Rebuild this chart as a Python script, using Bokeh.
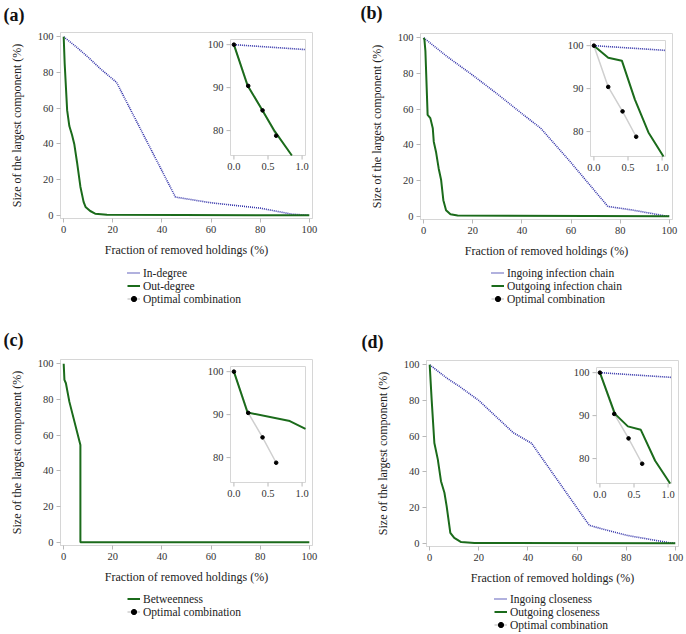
from bokeh.plotting import figure
from bokeh.models import Range1d, FixedTicker, Legend, LegendItem
from bokeh.layouts import column, row
from bokeh.embed import file_html
from bokeh.resources import INLINE
from bokeh.core.properties import value

# ---------------- data ----------------
main_ticks = [0, 20, 40, 60, 80, 100]
inset_x_ticks = [0.0, 0.5, 1.0]
inset_x_labels = ["0.0", "0.5", "1.0"]
inset_y_ticks = [80, 90, 100]
inset_y_labels = ["80", "90", "100"]

opt_x = [0.0, 0.21, 0.42, 0.62]
opt_y = [100.0, 90.4, 84.7, 78.8]

# (a)
a_in_x = [0, 5, 10, 15, 21.5, 45.5, 60, 80, 93, 100]
a_in_y = [100, 94.5, 88.5, 82, 74.5, 10.2, 7, 4, 0.6, 0]
a_out_x = [0, 0.4, 1.4, 2.3, 3.4, 4.3, 5.4, 6.8, 8.1, 8.9, 10.8, 12.8, 17.6, 100]
a_out_y = [100, 85, 58.9, 50, 45, 40, 30, 16, 7.5, 4.7, 2.4, 0.9, 0.3, 0]
a_in_ix = [0.0, 1.05]
a_in_iy = [100.0, 98.85]
a_out_ix = [0.0, 0.2, 0.4, 0.6, 0.85]
a_out_iy = [100.0, 90.5, 85.2, 79.8, 74.2]

# (b)
b_in_x = [0, 10, 20, 30, 40, 47.5, 60, 75, 85, 98, 100]
b_in_y = [100, 89, 79, 68.5, 57.5, 49.5, 30, 5.5, 3.5, 0.3, 0]
b_out_x = [0, 0.3, 0.7, 1.6, 2.7, 3.7, 4.1, 5.0, 6.1, 7.1, 8.0, 9.1, 10.9, 13.8, 100]
b_out_y = [100, 99, 92.5, 56.8, 55, 49.3, 41.8, 36.2, 26.8, 20.3, 9, 3.4, 1.1, 0.4, 0]
b_in_ix = [0.0, 1.05]
b_in_iy = [100.0, 98.9]
b_out_ix = [0.0, 0.21, 0.41, 0.6, 0.8, 1.02]
b_out_iy = [100.0, 97.2, 96.5, 87.5, 79.8, 74.2]

# (c)
c_bet_x = [0, 0.3, 0.9, 2.3, 6.8, 6.8, 100]
c_bet_y = [100, 91, 89.1, 78.8, 54.5, 0, 0]
c_bet_ix = [0.0, 0.2, 0.82, 1.05]
c_bet_iy = [100.0, 90.5, 88.5, 86.7]

# (d)
d_in_x = [0, 7, 12, 20, 27, 34, 41.5, 65, 80, 98, 100]
d_in_y = [100, 92.5, 88, 80, 71, 62, 56, 10, 4.5, 0.2, 0]
d_out_x = [0, 0.8, 1.9, 3.3, 4.6, 6.0, 6.9, 8.4, 10, 12.8, 18.2, 100]
d_out_y = [100, 80.5, 56.2, 47, 34.8, 28.3, 20.8, 5.8, 3, 0.7, 0.2, 0]
d_in_ix = [0.0, 1.05]
d_in_iy = [100.0, 98.9]
d_out_ix = [0.0, 0.22, 0.41, 0.6, 0.81, 1.03]
d_out_iy = [100.0, 90.4, 87.5, 86.7, 79.5, 74.2]

panel_letters = ["(a)", "(b)", "(c)", "(d)"]
legend_a = ["In-degree", "Out-degree", "Optimal combination"]
legend_b = ["Ingoing infection chain", "Outgoing infection chain", "Optimal combination"]
legend_c = ["Betweenness", "Optimal combination"]
legend_d = ["Ingoing closeness", "Outgoing closeness", "Optimal combination"]

# ---------------- styling ----------------
FONT = "Liberation Serif"
BLUE = "#3030a8"
GREEN = "#1b6b1b"
GRAY = "#cfcfcf"
FRAME = "#d6d6d6"
TXT = "#333333"

FW, FH = 252, 186       # frame size
IW, IH = 75, 116        # inset box size (px)
IR, IT = 7, 7           # inset offsets from frame right / top (px)
U0, U1 = -0.05, 1.05
V0, V1 = 74.2, 101.2

BLUE_STYLE = dict(line_color=BLUE, line_width=1.6, line_dash="1 1")
GREEN_STYLE = dict(line_color=GREEN, line_width=2)
GRAY_STYLE = dict(line_color=GRAY, line_width=1.5)
DOT_STYLE = dict(size=3.6, fill_color="black", line_color="black")


def header_fig(w, h, x, top, letter):
    # a strip whose ranges are measured in pixels, holding the panel letter
    q = figure(width=w, height=h, output_backend="svg", toolbar_location=None,
               x_axis_type=None, y_axis_type=None, frame_align=False,
               x_range=Range1d(0, w), y_range=Range1d(0, h),
               min_border_left=0, min_border_right=0,
               min_border_top=0, min_border_bottom=0)
    q.outline_line_color = None
    q.text(x=[x], y=[h - top], text=[letter], text_font=value(FONT),
           text_font_size="18px", text_font_style="bold", text_color="#111111",
           text_baseline="top", text_align="left")
    return q


def make_fig(w, h, bl, bt):
    p = figure(width=w, height=h, output_backend="svg", toolbar_location=None,
               frame_align=False,
               x_range=Range1d(-1.3, 101.3), y_range=Range1d(-1.8, 102.4),
               min_border_left=bl, min_border_top=bt,
               min_border_right=w - bl - FW, min_border_bottom=h - bt - FH)
    p.xgrid.visible = False
    p.ygrid.visible = False
    p.outline_line_color = FRAME
    p.background_fill_color = "white"
    for ax in (p.xaxis[0], p.yaxis[0]):
        ax.ticker = FixedTicker(ticks=main_ticks)
        ax.axis_line_color = FRAME
        ax.major_tick_line_color = "#b8b8b8"
        ax.major_tick_out = 4
        ax.major_tick_in = 0
        ax.minor_tick_line_color = None
        ax.major_label_text_font = FONT
        ax.major_label_text_font_size = "10.5px"
        ax.major_label_text_color = TXT
        ax.axis_label_text_font = FONT
        ax.axis_label_text_font_size = "12px"
        ax.axis_label_text_font_style = "normal"
        ax.axis_label_text_color = "#222222"
        ax.major_label_standoff = 3
    p.xaxis.axis_label = "Fraction of removed holdings (%)"
    p.yaxis.axis_label = "Size of the largest component (%)"
    p.xaxis.axis_label_standoff = 7
    p.yaxis.axis_label_standoff = 11
    # inset coordinate system
    su = IW / (U1 - U0)
    sv = IH / (V1 - V0)
    left_px = FW - IR - IW
    bottom_px = FH - IT - IH
    p.extra_x_ranges = {"ix": Range1d(U0 - left_px / su, U1 + IR / su)}
    p.extra_y_ranges = {"iy": Range1d(V0 - bottom_px / sv, V1 + IT / sv)}
    ik = dict(x_range_name="ix", y_range_name="iy")
    p.quad(left=U0, right=U1, bottom=V0, top=V1, fill_color="white",
           line_color=FRAME, line_width=1, **ik)
    p.segment(x0=inset_x_ticks, y0=[V0] * 3, x1=inset_x_ticks,
              y1=[V0 - 4 / sv] * 3, line_color="#b8b8b8", **ik)
    p.segment(x0=[U0] * 3, y0=inset_y_ticks, x1=[U0 - 4 / su] * 3,
              y1=inset_y_ticks, line_color="#b8b8b8", **ik)
    p.text(x=inset_x_ticks, y=[V0] * 3, text=inset_x_labels, y_offset=7,
           text_align="center", text_baseline="top", text_font=value(FONT),
           text_font_size="10.5px", text_color=TXT, **ik)
    p.text(x=[U0] * 3, y=inset_y_ticks, text=inset_y_labels, x_offset=-7,
           text_align="right", text_baseline="middle", text_font=value(FONT),
           text_font_size="10.5px", text_color=TXT, **ik)
    return p, ik


def legend_fig(w, h, left, top, labels, series):
    # the legend's sample renderers carry the real series, but the ranges of this
    # strip lie outside the data, so only the legend samples are visible
    q = figure(width=w, height=h, output_backend="svg", toolbar_location=None,
               x_axis_type=None, y_axis_type=None, frame_align=False,
               x_range=Range1d(-30, -20), y_range=Range1d(-30, -20),
               min_border_left=left, min_border_top=top,
               min_border_right=0, min_border_bottom=0)
    q.outline_line_color = None
    items = []
    for lab, (kind, xs, ys) in zip(labels, series):
        if kind == "blue":
            rs = [q.line(xs, ys, **BLUE_STYLE)]
        elif kind == "green":
            rs = [q.line(xs, ys, **GREEN_STYLE)]
        else:
            rs = [q.line(xs, ys, **GRAY_STYLE), q.scatter(xs, ys, **DOT_STYLE)]
        items.append(LegendItem(label=lab, renderers=rs))
    leg = Legend(items=items, location="top_left", orientation="vertical",
                 border_line_color=None, background_fill_alpha=0,
                 label_text_font=FONT, label_text_font_size="11.5px",
                 label_text_color="#222222",
                 glyph_width=13, glyph_height=13, label_height=13,
                 label_standoff=3, spacing=0, padding=0, margin=0)
    q.add_layout(leg)
    return q


def draw(p, x, y, style, **kw):
    return p.line(x, y, **style, **kw)


# (a)
ha = header_fig(343, 28, 3, 4, panel_letters[0])
pa, ik = make_fig(343, 236, 60, 4)
draw(pa, a_in_x, a_in_y, BLUE_STYLE)
draw(pa, a_out_x, a_out_y, GREEN_STYLE)
draw(pa, opt_x, opt_y, GRAY_STYLE, **ik)
draw(pa, a_out_ix, a_out_iy, GREEN_STYLE, **ik)
draw(pa, a_in_ix, a_in_iy, BLUE_STYLE, **ik)
pa.scatter(opt_x, opt_y, **DOT_STYLE, **ik)
la = legend_fig(343, 53, 127, 2, legend_a,
                [("blue", a_in_x, a_in_y), ("green", a_out_x, a_out_y), ("opt", opt_x, opt_y)])

# (b)
hb = header_fig(343, 28, 17, 2, panel_letters[1])
pb, ik = make_fig(343, 236, 77, 5)
draw(pb, b_in_x, b_in_y, BLUE_STYLE)
draw(pb, b_out_x, b_out_y, GREEN_STYLE)
draw(pb, opt_x, opt_y, GRAY_STYLE, **ik)
draw(pb, b_out_ix, b_out_iy, GREEN_STYLE, **ik)
draw(pb, b_in_ix, b_in_iy, BLUE_STYLE, **ik)
pb.scatter(opt_x, opt_y, **DOT_STYLE, **ik)
lb = legend_fig(343, 53, 148, 2, legend_b,
                [("blue", b_in_x, b_in_y), ("green", b_out_x, b_out_y), ("opt", opt_x, opt_y)])

# (c)
hc = header_fig(343, 36, 3, 12, panel_letters[2])
pc, ik = make_fig(343, 238, 60, 6)
draw(pc, c_bet_x, c_bet_y, GREEN_STYLE)
draw(pc, opt_x, opt_y, GRAY_STYLE, **ik)
draw(pc, c_bet_ix, c_bet_iy, GREEN_STYLE, **ik)
pc.scatter(opt_x, opt_y, **DOT_STYLE, **ik)
lc = legend_fig(343, 43, 127, 1, legend_c,
                [("green", c_bet_x, c_bet_y), ("opt", opt_x, opt_y)])

# (d)
hd = header_fig(343, 36, 18, 14, panel_letters[3])
pd_, ik = make_fig(343, 238, 83, 7)
draw(pd_, d_in_x, d_in_y, BLUE_STYLE)
draw(pd_, d_out_x, d_out_y, GREEN_STYLE)
draw(pd_, opt_x, opt_y, GRAY_STYLE, **ik)
draw(pd_, d_out_ix, d_out_iy, GREEN_STYLE, **ik)
draw(pd_, d_in_ix, d_in_iy, BLUE_STYLE, **ik)
pd_.scatter(opt_x, opt_y, **DOT_STYLE, **ik)
ld = legend_fig(343, 43, 151, 1, legend_d,
                [("blue", d_in_x, d_in_y), ("green", d_out_x, d_out_y), ("opt", opt_x, opt_y)])

layout = column(
    row(column(ha, pa, la, spacing=0), column(hb, pb, lb, spacing=0), spacing=0),
    row(column(hc, pc, lc, spacing=0), column(hd, pd_, ld, spacing=0), spacing=0),
    spacing=0)
open("out.html", "w").write(file_html(layout, INLINE))
